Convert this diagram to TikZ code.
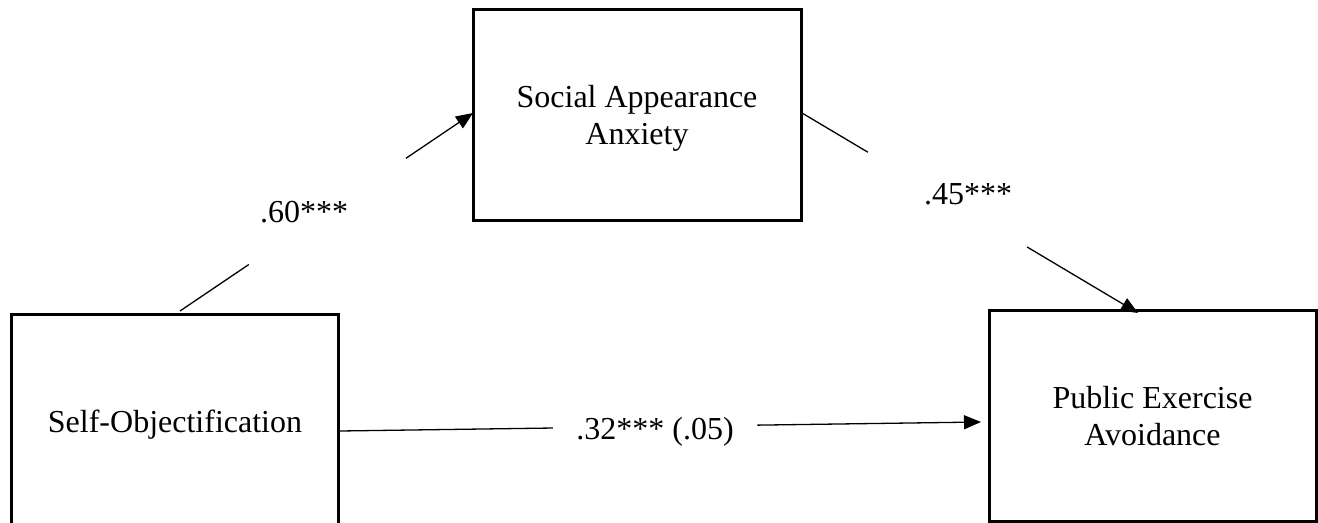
\documentclass[tikz,border=0pt]{standalone}
\usepackage{fontspec}
\setmainfont{Liberation Serif}
\usetikzlibrary{arrows.meta,calc}
\tikzset{
  txt/.style={font=\fontsize{32bp}{37.3bp}\selectfont},
  varbox/.style={txt, draw, line width=3bp, inner sep=0pt, outer sep=0pt,
    align=center, text depth=0pt},
  coef/.style={txt, anchor=base, inner sep=0pt},
  link/.style={line width=1.3bp},
  head/.style={link, -{Triangle[length=17bp,width=14bp]}},
}
\begin{document}
\begin{tikzpicture}[x=1bp,y=-1bp]
\useasboundingbox (0,0) rectangle (1318,523);
\clip (0,0) rectangle (1318,523);

% variables
\node[varbox, minimum width=328bp, minimum height=210bp] (saa) at (637,115)
  {Social Appearance\\Anxiety};
\node[varbox, minimum width=326bp, minimum height=212bp] (so) at (175,421)
  {Self-Objectification};
\node[varbox, minimum width=327bp, minimum height=210bp] (pea) at (1152.5,416)
  {Public Exercise\\Avoidance};

% path end points
\coordinate (a1) at ($(so.north west)+(168,-4)$);
\coordinate (b1) at ($(saa.west)+(0,-2)$);
\coordinate (a2) at ($(saa.east)+(1,-2)$);
\coordinate (b2) at ($(pea.north west)+(149,2)$);
\coordinate (a3) at ($(so.east)+(2,10)$);
\coordinate (b3) at ($(pea.west)+(-8,6)$);

% paths, broken around their coefficients
\draw[link] (a1) -- ($(a1)!0.235!(b1)$);
\draw[head] ($(a1)!0.771!(b1)$) -- (b1);
\draw[link] (a2) -- ($(a2)!0.196!(b2)$);
\draw[head] ($(a2)!0.67!(b2)$) -- (b2);
\draw[link] (a3) -- ($(a3)!0.332!(b3)$);
\draw[head] ($(a3)!0.651!(b3)$) -- (b3);

% coefficients
\node[coef] (c1) at (304,223) {.60***};
\node[coef] (c2) at (968,205) {.45***};
\node[coef] (c3) at (655,439) {.32*** (.05)};
\end{tikzpicture}
\end{document}
